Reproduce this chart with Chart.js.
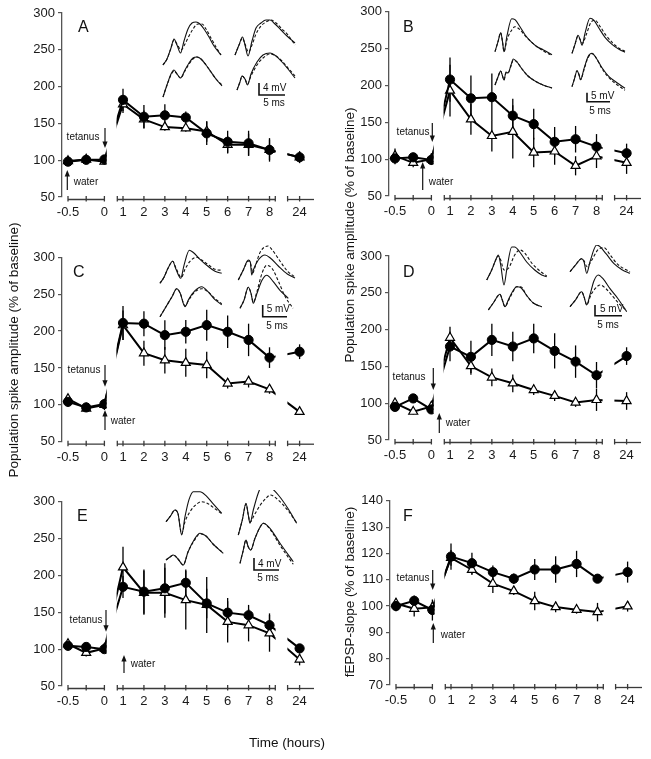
<!DOCTYPE html>
<html><head><meta charset="utf-8">
<script src="https://cdn.jsdelivr.net/npm/chart.js@4.4.1/dist/chart.umd.min.js"></script>
<style>
html,body{margin:0;padding:0;background:#fff;}
body{width:651px;height:759px;position:relative;overflow:hidden;font-family:"Liberation Sans",Arial,sans-serif;color:#111;}
.pnl{position:absolute;width:325px;height:245px;}
.lab{position:absolute;white-space:nowrap;font-size:13.5px;line-height:14px;height:14px;width:400px;text-align:center;font-weight:normal;color:#111;}
.rot{transform:rotate(-90deg);transform-origin:200px 7px;}
</style></head><body>
<div class="pnl" style="left:0;top:0"><canvas id="cA"></canvas></div>
<div class="pnl" style="left:326px;top:0"><canvas id="cB"></canvas></div>
<div class="pnl" style="left:0;top:245px"><canvas id="cC"></canvas></div>
<div class="pnl" style="left:326px;top:245px"><canvas id="cD"></canvas></div>
<div class="pnl" style="left:0;top:490px"><canvas id="cE"></canvas></div>
<div class="pnl" style="left:326px;top:490px"><canvas id="cF"></canvas></div>
<div class="lab rot" style="left:-186px;top:343px">Population spike amplitude (% of baseline)</div>
<div class="lab rot" style="left:150px;top:228px">Population spike amplitude (% of baseline)</div>
<div class="lab rot" style="left:150px;top:585px">fEPSP-slope (% of baseline)</div>
<div class="lab" style="left:87px;top:736px">Time (hours)</div>
<script>
// ---------- data ----------
const times = [-0.5, -0.25, 0, 1, 2, 3, 4, 5, 6, 7, 8, 24];
const xTicks = [-0.5, -0.25, 0, 1, 2, 3, 4, 5, 6, 7, 8, 24];
const xTickLabels = ['-0.5', '', '0', '1', '2', '3', '4', '5', '6', '7', '8', '24'];

const circA = [98, 100.5, 101, 182, 159, 161, 158, 136.5, 125, 123, 114, 104];
const circErrA = [4, 3, 5, 15, 16, 15, 8, 16, 15, 17, 16, 8];
const triA = [99, 101, 98, 176, 155.5, 145, 143.5, 139, 121, 121, 114, 104];
const triErrA = [4, 3, 4, 12, 12, 5, 5, 14, 12, 15, 14, 6];

const circB = [101, 102.5, 99, 208, 182.5, 184, 159, 147.5, 123.5, 127, 117, 108];
const circErrB = [8, 6, 6, 30, 31, 32, 23, 21, 20, 18, 17, 13];
const triB = [104.5, 95, 100, 193, 154, 131.5, 137, 109, 110.5, 91, 104, 95];
const triErrB = [10, 6, 8, 35, 21, 21, 36, 20, 18, 13, 16, 15];

const circC = [104, 96.5, 101, 211, 210, 194.5, 199, 208, 199, 188, 164, 172];
const circErrC = [6, 4, 5, 23, 17, 20, 16, 21, 22, 22, 14, 10];
const triC = [108, 95, 100, 208, 170, 160.5, 157, 154, 129, 131.5, 121, 90.5];
const triErrC = [5, 4, 7, 20, 17, 18, 19, 18, 7, 8, 6, 4];

const circD = [95, 106.5, 91.5, 177, 163, 186, 177, 188, 171, 156.5, 138, 164];
const circErrD = [4, 3, 5, 20, 22, 22, 20, 20, 24, 22, 18, 12];
const triD = [100, 88.5, 95.5, 189, 150.5, 135, 127, 118, 110, 101, 104.5, 103];
const triErrD = [4, 4, 5, 15, 12, 12, 12, 7, 7, 6, 15, 12];

const circE = [104.5, 103, 100, 184.5, 178, 182.5, 190, 162, 149.5, 146, 132.5, 101];
const circErrE = [4, 4, 5, 15, 30, 34, 18, 20, 20, 14, 16, 6];
const triE = [107, 95, 101, 211, 176.5, 176.5, 166.5, 160, 137, 132.5, 121.5, 86];
const triErrE = [4, 5, 4, 28, 30, 34, 40, 38, 28, 22, 25, 8];

const circF = [100, 102, 98.5, 118.8, 116.3, 112.9, 110.4, 113.9, 113.9, 116, 110.4, 112.9];
const circErrF = [2, 2, 4, 5, 4, 2.5, 2, 4, 5, 5, 1, 4];
const triF = [101, 99, 99.5, 118.3, 113.8, 108.5, 105.7, 101.9, 99.6, 98.6, 97.7, 99.9];
const triErrF = [2, 3, 2, 3, 2, 3.5, 1.5, 3.5, 2, 1.5, 3.5, 2];

const yTicksPS = [50, 100, 150, 200, 250, 300];
const yTicksF = [70, 80, 90, 100, 110, 120, 130, 140];

// inset waveforms: [solid, dashed] sample pairs [time offset, amplitude]
const traceA = [
 [[[0,0],[4,6],[8,17],[11,26],[14,20],[17.5,12],[21,24],[25,36],[29,42],[33,43],[37,41],[41,36],[46,28],[51,19],[58,10]],
  [[0,0],[4,6],[8,17],[11,25],[14,21],[18,15],[22,21],[26,29],[30,36],[35,41],[39,41],[43,36],[48,27],[53,18],[58,10]]],
 [[[0,0],[4,10],[7.5,18],[10,10],[13,-1],[17,14],[21,27],[26,32],[31,35],[35,35],[40,31],[46,25],[52,19],[60,12]],
  [[0,0],[4,10],[7.5,17],[10,11],[13.5,3],[17,10],[21,21],[26,29],[31,33],[36,35],[41,32],[47,26],[53,20],[60,10]]],
 [[[0,0],[4,12],[8,23],[11,27],[14,23],[17.5,19],[22,27],[26,34],[30,39],[34,40],[38,38],[43,32],[48,25],[53,18],[59,11]],
  [[0,0],[4,12],[8,22],[11,26],[14,23],[17.5,19],[22,26],[26,33],[30,38],[34,40],[38,38],[43,32],[48,25],[53,18],[59,12]]],
 [[[0,0],[3,8],[5,14],[8,11],[10.5,5],[14,16],[20,28],[26,35],[33,37],[39,34],[45,28],[51,21],[58,12]],
  [[0,0],[3,8],[5,14],[8,11],[10.5,6],[14,14],[20,25],[26,32],[33,36],[39,34],[45,29],[51,22],[58,14]]]
];
const traceB = [
 [[[0,0],[3,10],[5.7,19],[7.5,10],[9,0],[12,16],[16.7,33],[20,32],[25,25],[30,17],[36,10],[42,5],[48,2],[57,-3]],
  [[0,0],[3,10],[5.7,19],[7.5,10],[9,0],[12,12],[17,22],[20,25],[25,22],[30,16],[36,10],[42,5],[48,1],[57,-4]]],
 [[[0,0],[3,9],[6,18],[8,14],[10,8],[13,20],[18,35],[22,33],[27,25],[33,16],[40,9],[47,4],[53,1]],
  [[0,0],[3,9],[6,17],[8,14],[10.5,10],[14,18],[19,31],[23,33],[28,27],[34,18],[41,10],[47,5],[53,2]]],
 [[[0,0],[3,8],[5.7,14],[7.5,9],[9,5],[11,13],[13,12],[16,20],[18.3,26],[22,23],[27,16],[33,9],[40,4],[48,0],[57,-3]],
  [[0,0],[3,8],[5.7,14],[7.5,9],[9,5],[11,12],[13,12],[16,19],[18.3,25],[22,23],[27,16],[33,9],[40,4],[48,0],[57,-3]]],
 [[[0,0],[2.5,8],[5,16],[7,12],[8.5,7],[12,18],[16,30],[20,33.4],[24,29],[30,19],[37,10],[45,4],[53,-1.6]],
  [[0,0],[2.5,8],[5,16],[7,12],[8.5,7],[12,17],[16,29],[20,33],[24,29],[30,18],[37,9],[45,2],[53,-3.5]]]
];
const traceC = [
 [[[0,0],[4,6],[8,15],[12.7,22],[16,14],[20.7,5],[24,18],[29.3,33],[33,31],[40,24],[48,17],[55,12],[61.7,10]],
  [[0,0],[4,6],[8,15],[12.7,22],[16,15],[21.3,6],[25,14],[30,22],[36.7,26],[42,23],[49,18],[55,14],[61.7,13]]],
 [[[0,0],[5,10],[10,20],[12,18],[13.4,5],[15,10],[20,20],[26.7,25],[32,22],[40,14],[49,6],[56.7,2]],
  [[0,0],[5,10],[10,19],[12.4,16],[14.4,7],[17,14],[22,28],[29.7,34],[34,30],[41,20],[49,9],[56.7,3]]],
 [[[0,0],[6,10],[12,20],[16.7,28],[20,24],[25,10],[29,18],[35,26],[41.7,30],[48,25],[55,17],[61.7,12]],
  [[0,0],[6,10],[12,20],[16.7,28],[20,24],[25,11],[29,17],[35,25],[42,28],[48,25],[55,18],[61.7,13]]],
 [[[0,0],[4,8],[8.3,21],[11,15],[13.3,5],[17,15],[22,28],[26.7,33],[33,27],[40,18],[48.3,10]],
  [[0,0],[4,8],[8.3,21],[11,15],[13.3,6],[17,17],[22,35],[26.7,43],[32,40],[38,28],[45,12],[53,0]]]
];
const traceD = [
 [[[0,0],[5,10],[9,20],[11.6,25],[14,15],[17.3,-5],[20,10],[25,33],[28,33],[33,28],[40,18],[48,10],[55,5],[60,3.3]],
  [[0,0],[5,10],[9,20],[11.6,24],[14,20],[17.3,10],[22,12],[28,25],[33.3,30],[38,27],[45,17],[52,10],[60,4]]],
 [[[0,0],[5,6],[11.7,13],[14,10],[16.7,-1.6],[20,10],[26.7,26.7],[30,25],[36,18],[44,8],[52,2],[60,-1.6]],
  [[0,0],[5,6],[11.7,13],[14,11],[17,5],[22,12],[28,22],[34,24],[40,17],[47,8],[54,3],[60,0]]],
 [[[0,0],[5,7],[11.7,15.7],[14,10],[16.7,3.3],[20,10],[24,18],[28.4,23.3],[33,22],[38,15],[45,7],[53.4,3.3]],
  [[0,0],[5,7],[11.7,15.7],[14,10],[16.7,3.3],[20,9],[24,17],[28.4,23.3],[33,23],[38,15],[45,7],[53.4,3.3]]],
 [[[0,0],[5,6],[11.7,15],[14,10],[16.7,1.7],[20,12],[24,26],[28.3,31.7],[33,28],[40,18],[48,8],[56.7,-5]],
  [[0,0],[5,6],[11.7,15],[14,10],[16.7,2],[21,12],[26,19],[30,21.7],[36,18],[43,10],[50,2],[56.7,-4]]]
];
const traceE = [
 [[[0,0],[4,5],[9,11.7],[12,8],[15.7,-13.3],[19,5],[23,22],[27.3,30],[34,30],[40,26],[47,18],[55.7,8.4]],
  [[0,0],[4,5],[9,11.7],[12,8],[15.7,-12],[19,0],[24,10],[30,17],[35.7,20],[42,18],[49,13],[55.7,8]]],
 [[[0,0],[4,15],[7.7,31.7],[10,20],[11.7,11.7],[15,25],[20,42],[25,51.7],[32,48],[40,40],[50,26],[58.4,11.7]],
  [[0,0],[4,15],[7.7,31],[10,20],[11.7,13],[16,20],[22,30],[28,37],[32,40],[40,35],[50,24],[58.4,12]]],
 [[[0,0],[4,3],[7.3,5],[12,1],[17.3,-5],[22,8],[28,20],[34,26.7],[40,24],[47,16],[57.3,6.7]],
  [[0,0],[4,3],[7.3,5],[12,1],[17.3,-5],[22,8],[28,19],[34,26],[40,24],[47,16],[57.3,7]]],
 [[[0,0],[3,12],[6,23.3],[8,17],[10.7,13.3],[15,25],[20,36],[23.3,40],[30,35],[40,20],[53.3,1.6]],
  [[0,0],[3,12],[6,23.3],[8,17],[10.7,13.3],[15,25],[20,36],[23.3,40],[30,34],[40,18],[53.3,-1]]]
];

// ---------- broken time axis ----------
function brokenX(t) {
  if (t <= 0) return (t + 0.5) * 72.8;
  if (t <= 12) return 55 + (t - 1) * 20.93;
  return 231.6 + (t - 24) * 20.93;
}
const AXIS_SEGS = [[0, 36.4, false, false], [49.3, 207.3, true, true], [219.6, 246, true, false]];
const CLIP_SEGS = [[-6, 38.6], [48.6, 207.6], [219.4, 252]];

class BrokenScale extends Chart.LinearScale {
  static id = 'broken';
  static defaults = Chart.LinearScale.defaults;
  getPixelForValue(v) { return super.getPixelForValue(brokenX(v)); }
  getPixelForUnit(u) { return super.getPixelForValue(u); }
}
Chart.register(BrokenScale);

Chart.defaults.font.family = '"Liberation Sans", Arial, sans-serif';
Chart.defaults.font.size = 13;
Chart.defaults.color = '#1a1a1a';

// ---------- panel layout ----------
const panels = [
 {cv:'cA', cl:0, ct:0, yW:62, top:13, xH:48, padR:11, yTicks:yTicksPS,
  circ:circA, circErr:circErrA, tri:triA, triErr:triErrA, traces:traceA,
  bases:[[163,65],[235,55],[163,97],[237,90]], letter:['A',78,32],
  tet:[83,137,105,128,148], wat:[86,182,67.3,190,170],
  bar:{x:259,y0:83,y1:95,x1:285,mv:'4 mV',mvx:263,mvy:88,msx:274,msy:103}},
 {cv:'cB', cl:326, ct:0, yW:63, top:11.7, xH:49, padR:10, yTicks:yTicksPS,
  circ:circB, circErr:circErrB, tri:triB, triErr:triErrB, traces:traceB,
  bases:[[495,51.7],[572,53.3],[495,85],[572,86.7]], letter:['B',403,32],
  tet:[413,132,432.3,123,142], wat:[441,182,422.7,190,162],
  bar:{x:587,y0:92.7,y1:101.7,x1:610,mv:'5 mV',mvx:591,mvy:96,msx:600,msy:111}},
 {cv:'cC', cl:0, ct:245, yW:62, top:257.3, xH:48.3, padR:11, yTicks:yTicksPS,
  circ:circC, circErr:circErrC, tri:triC, triErr:triErrC, traces:traceC,
  bases:[[160,283.3],[238.3,280],[160,316.7],[240,308.3]], letter:['C',73,277],
  tet:[84,370,105,365,386.7], wat:[123,421,105,430,410],
  bar:{x:262.7,y0:305,y1:316.7,x1:287,mv:'5 mV',mvx:266.7,mvy:309.5,msx:277,msy:326}},
 {cv:'cD', cl:326, ct:245, yW:63, top:256, xH:50, padR:10, yTicks:yTicksPS,
  circ:circD, circErr:circErrD, tri:triD, triErr:triErrD, traces:traceD,
  bases:[[486.7,280],[570,271.7],[488.3,310],[570,306.7]], letter:['D',403,277],
  tet:[409,377,433.3,368,390], wat:[458,423,439.3,433,413],
  bar:{x:595,y0:305,y1:315.7,x1:622,mv:'5 mV',mvx:600,mvy:309.5,msx:608,msy:325}},
 {cv:'cE', cl:0, ct:490, yW:62, top:501.7, xH:49, padR:11, yTicks:yTicksPS,
  circ:circE, circErr:circErrE, tri:triE, triErr:triErrE, traces:traceE,
  bases:[[166,521.7],[238.3,535],[166,560],[240,563.3]], letter:['E',77,521],
  tet:[86,620,106,610,631.7], wat:[143,664,124,673,655],
  bar:{x:254,y0:558,y1:570,x1:279,mv:'4 mV',mvx:258,mvy:564,msx:268,msy:578}},
 {cv:'cF', cl:326, ct:490, yW:64, top:500, xH:50, padR:9, yTicks:yTicksF,
  circ:circF, circErr:circErrF, tri:triF, triErr:triErrF, traces:null,
  bases:null, letter:['F',403,521],
  tet:[413,578,432.7,570,590], wat:[453,635,433.3,643,623], bar:null}
];

const CANVAS_H = 245, AX_W = 252, U_MIN = -6;

function arrow(ctx, x, yFrom, yTo) {
  const dir = yTo > yFrom ? 1 : -1;
  ctx.beginPath(); ctx.moveTo(x, yFrom); ctx.lineTo(x, yTo - dir * 4); ctx.stroke();
  ctx.beginPath(); ctx.moveTo(x, yTo); ctx.lineTo(x - 2.6, yTo - dir * 6.5); ctx.lineTo(x + 2.6, yTo - dir * 6.5); ctx.closePath(); ctx.fill();
}

function makePlugin(p) {
  return {
    id: 'panelDecor' + p.cv,
    beforeDatasetsDraw(chart) {
      const ctx = chart.ctx, ys = chart.scales.y;
      ctx.save();
      ctx.strokeStyle = '#000'; ctx.lineWidth = 1.3;
      chart.data.datasets.forEach((ds, i) => {
        if (!ds.errs) return;
        const meta = chart.getDatasetMeta(i);
        ds.errs.forEach((e, j) => {
          const pt = meta.data[j]; const v = ds.data[j].y;
          ctx.beginPath();
          ctx.moveTo(pt.x, ys.getPixelForValue(v + e));
          ctx.lineTo(pt.x, ys.getPixelForValue(v - e));
          ctx.stroke();
        });
      });
      ctx.restore();
    },
    beforeDatasetDraw(chart, args) {
      const ds = chart.data.datasets[args.index];
      if (!ds.segClip) return;
      const ctx = chart.ctx, xs = chart.scales.x, ca = chart.chartArea;
      ctx.save(); ctx.beginPath();
      CLIP_SEGS.forEach(([a, b]) => {
        const x0 = xs.getPixelForUnit(a), x1 = xs.getPixelForUnit(b);
        ctx.rect(x0, ca.top - 40, x1 - x0, ca.bottom - ca.top + 50);
      });
      ctx.clip();
    },
    afterDatasetDraw(chart, args) {
      const ds = chart.data.datasets[args.index];
      if (ds.segClip) chart.ctx.restore();
    },
    afterDraw(chart) {
      const ctx = chart.ctx, xs = chart.scales.x, ca = chart.chartArea;
      ctx.save();
      // broken x axis
      const ay = ca.bottom + 2.5;
      ctx.strokeStyle = '#3a3a3a'; ctx.lineWidth = 1.3;
      AXIS_SEGS.forEach(([a, b, t0, t1]) => {
        const x0 = xs.getPixelForUnit(a), x1 = xs.getPixelForUnit(b);
        ctx.beginPath(); ctx.moveTo(x0, ay); ctx.lineTo(x1, ay); ctx.stroke();
        if (t0) { ctx.beginPath(); ctx.moveTo(x0, ay - 3.5); ctx.lineTo(x0, ay + 2); ctx.stroke(); }
        if (t1) { ctx.beginPath(); ctx.moveTo(x1, ay - 3.5); ctx.lineTo(x1, ay + 2); ctx.stroke(); }
      });
      xTicks.forEach(t => {
        const x = xs.getPixelForValue(t);
        ctx.beginPath(); ctx.moveTo(x, ay - 3.5); ctx.lineTo(x, ay + 2); ctx.stroke();
      });
      // annotations (page coordinates -> canvas)
      const X = v => v - p.cl, Y = v => v - p.ct;
      ctx.fillStyle = '#111'; ctx.strokeStyle = '#111';
      ctx.font = '16px "Liberation Sans", Arial, sans-serif';
      ctx.textAlign = 'left'; ctx.textBaseline = 'alphabetic';
      ctx.fillText(p.letter[0], X(p.letter[1]), Y(p.letter[2]));
      ctx.font = '10px "Liberation Sans", Arial, sans-serif';
      ctx.textAlign = 'center'; ctx.textBaseline = 'middle';
      ctx.fillText('tetanus', X(p.tet[0]), Y(p.tet[1]));
      ctx.fillText('water', X(p.wat[0]), Y(p.wat[1]));
      ctx.lineWidth = 1.2;
      arrow(ctx, X(p.tet[2]), Y(p.tet[3]), Y(p.tet[4]));
      arrow(ctx, X(p.wat[2]), Y(p.wat[3]), Y(p.wat[4]));
      if (p.bar) {
        const b = p.bar;
        ctx.lineWidth = 1.6;
        ctx.beginPath(); ctx.moveTo(X(b.x), Y(b.y0)); ctx.lineTo(X(b.x), Y(b.y1)); ctx.lineTo(X(b.x1), Y(b.y1)); ctx.stroke();
        ctx.textAlign = 'left';
        ctx.fillText(b.mv, X(b.mvx), Y(b.mvy));
        ctx.textAlign = 'center';
        ctx.fillText('5 ms', X(b.msx), Y(b.msy));
      }
      ctx.restore();
    }
  };
}

panels.forEach(p => {
  const chartLeftPage = p.cl + p.yW;
  const bottomPage = p.ct + CANVAS_H - p.xH;
  const datasets = [
    {data: times.map((t, i) => ({x: t, y: p.circ[i]})), errs: p.circErr, segClip: true,
     borderColor: '#000', borderWidth: 2, tension: 0, pointStyle: 'circle', pointRadius: 4.6,
     pointBackgroundColor: '#000', pointBorderColor: '#000', pointBorderWidth: 1, order: 0},
    {data: times.map((t, i) => ({x: t, y: p.tri[i]})), errs: p.triErr, segClip: true,
     borderColor: '#000', borderWidth: 2, tension: 0, pointStyle: 'triangle', pointRadius: 5.2,
     pointBackgroundColor: '#fff', pointBorderColor: '#000', pointBorderWidth: 1.2, order: 0}
  ];
  if (p.traces) {
    p.traces.forEach((pair, k) => {
      const [bx, by] = p.bases[k];
      pair.forEach((tr, d) => {
        datasets.push({
          data: tr.map(([dx, dy]) => ({x: bx + dx, y: dy - by})),
          xAxisID: 'ix', yAxisID: 'iy', borderColor: '#111', borderWidth: 1.1,
          borderDash: d ? [3, 2] : [], pointRadius: 0, cubicInterpolationMode: 'monotone',
          clip: false, order: 1
        });
      });
    });
  }
  new Chart(document.getElementById(p.cv), {
    type: 'line',
    data: {datasets},
    options: {
      responsive: true, maintainAspectRatio: false, animation: false, events: [],
      layout: {padding: {left: 0, right: p.padR, top: p.top - p.ct, bottom: 0}},
      plugins: {legend: {display: false}, tooltip: {enabled: false}},
      scales: {
        x: {type: 'broken', axis: 'x', position: 'bottom', min: U_MIN, max: U_MIN + AX_W,
            grid: {display: false, drawTicks: false}, border: {display: false},
            afterBuildTicks: s => { s.ticks = xTicks.map(v => ({value: v})); },
            afterFit: s => { s.height = p.xH; },
            ticks: {autoSkip: false, maxRotation: 0, padding: 8, color: '#1a1a1a',
                    callback: (v, i) => xTickLabels[i]}},
        y: {type: 'linear', axis: 'y', position: 'left', min: p.yTicks[0], max: p.yTicks[p.yTicks.length - 1],
            afterBuildTicks: s => { s.ticks = p.yTicks.map(v => ({value: v})); },
            afterFit: s => { s.width = p.yW; },
            grid: {drawOnChartArea: false, drawTicks: true, tickLength: 4, color: '#555', lineWidth: 1.2},
            border: {display: true, color: '#555', width: 1.3},
            ticks: {padding: 3, color: '#1a1a1a', callback: v => String(v)}},
        ix: {type: 'linear', axis: 'x', position: 'bottom', display: false, min: chartLeftPage, max: chartLeftPage + AX_W},
        iy: {type: 'linear', axis: 'y', position: 'left', display: false, min: -bottomPage, max: -p.top}
      }
    },
    plugins: [makePlugin(p)]
  });
});
</script>
</body></html>
